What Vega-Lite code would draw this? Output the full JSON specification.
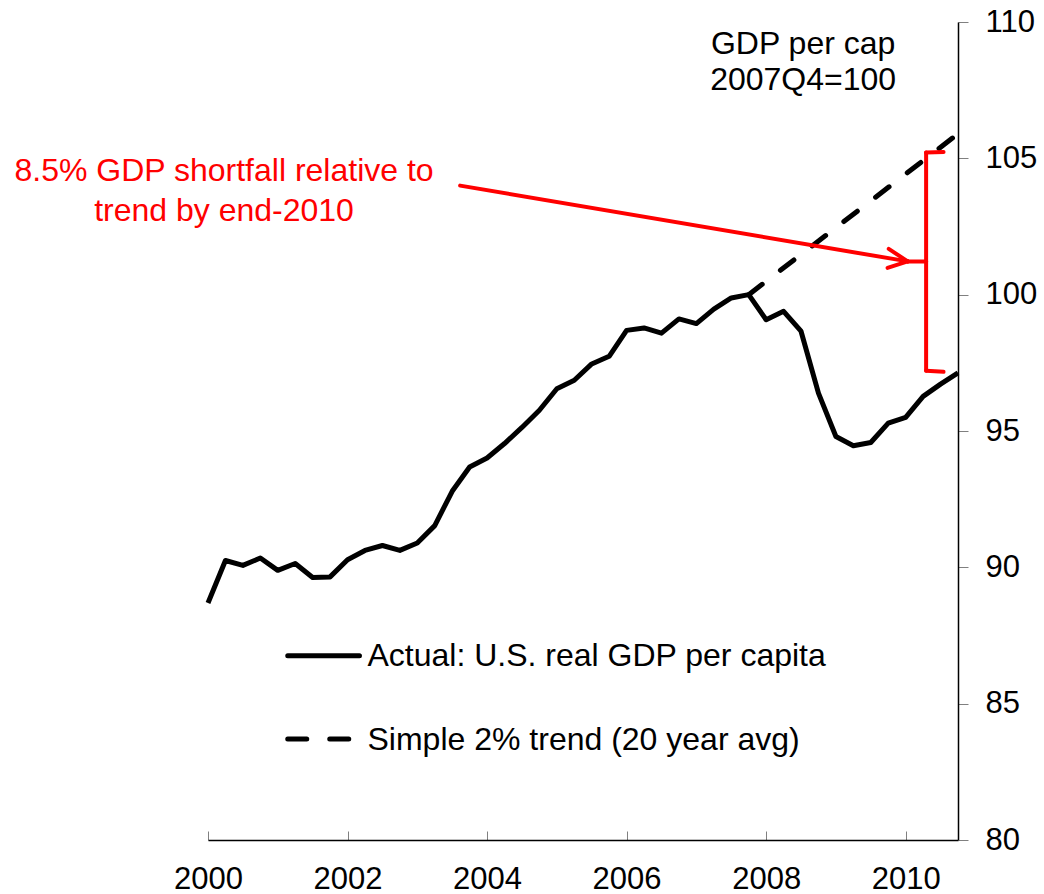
{
  "$schema": "https://vega.github.io/schema/vega-lite/v6.json",
  "width": 750,
  "height": 818,
  "autosize": "none",
  "padding": {"left": 208, "top": 22, "right": 86, "bottom": 54},
  "background": "white",
  "config": {"view": {"stroke": null}, "font": "Liberation Sans"},
  "datasets": {
    "actual": [
      {"date": 2000.00, "value": 88.69}, {"date": 2000.25, "value": 90.25}, {"date": 2000.50, "value": 90.07}, {"date": 2000.75, "value": 90.34},
      {"date": 2001.00, "value": 89.89}, {"date": 2001.25, "value": 90.14}, {"date": 2001.50, "value": 89.63}, {"date": 2001.75, "value": 89.65},
      {"date": 2002.00, "value": 90.28}, {"date": 2002.25, "value": 90.62}, {"date": 2002.50, "value": 90.80}, {"date": 2002.75, "value": 90.62},
      {"date": 2003.00, "value": 90.89}, {"date": 2003.25, "value": 91.53}, {"date": 2003.50, "value": 92.79}, {"date": 2003.75, "value": 93.68},
      {"date": 2004.00, "value": 94.01}, {"date": 2004.25, "value": 94.54}, {"date": 2004.50, "value": 95.13}, {"date": 2004.75, "value": 95.76},
      {"date": 2005.00, "value": 96.55}, {"date": 2005.25, "value": 96.86}, {"date": 2005.50, "value": 97.46}, {"date": 2005.75, "value": 97.74},
      {"date": 2006.00, "value": 98.69}, {"date": 2006.25, "value": 98.78}, {"date": 2006.50, "value": 98.59}, {"date": 2006.75, "value": 99.11},
      {"date": 2007.00, "value": 98.94}, {"date": 2007.25, "value": 99.47}, {"date": 2007.50, "value": 99.88}, {"date": 2007.75, "value": 100.0},
      {"date": 2008.00, "value": 99.08}, {"date": 2008.25, "value": 99.39}, {"date": 2008.50, "value": 98.66}, {"date": 2008.75, "value": 96.39},
      {"date": 2009.00, "value": 94.80}, {"date": 2009.25, "value": 94.46}, {"date": 2009.50, "value": 94.58}, {"date": 2009.75, "value": 95.29},
      {"date": 2010.00, "value": 95.50}, {"date": 2010.25, "value": 96.27}, {"date": 2010.50, "value": 96.72}, {"date": 2010.75, "value": 97.13}
    ],
    "trend": [
      {"date": 2007.75, "value": 100.0},
      {"date": 2010.75, "value": 105.9}
    ],
    "redSegments": [
      {"x": 2003.614, "y": 104.0, "x2": 2010.029, "y2": 101.22},
      {"x": 2010.029, "y": 101.22, "x2": 2009.757, "y2": 101.68},
      {"x": 2010.029, "y": 101.22, "x2": 2009.740, "y2": 100.98},
      {"x": 2010.029, "y": 101.22, "x2": 2010.293, "y2": 101.22},
      {"x": 2010.293, "y": 105.21, "x2": 2010.293, "y2": 97.21},
      {"x": 2010.293, "y": 105.21, "x2": 2010.543, "y2": 105.23},
      {"x": 2010.293, "y": 97.21, "x2": 2010.543, "y2": 97.17}
    ],
    "redText": [
      {"x": 2000.23, "y": 104.52, "text": "8.5% GDP shortfall relative to"},
      {"x": 2000.23, "y": 103.06, "text": "trend by end-2010"}
    ],
    "unitText": [
      {"x": 2008.53, "y": 109.2, "text": "GDP per cap"},
      {"x": 2008.53, "y": 107.86, "text": "2007Q4=100"}
    ],
    "legendLines": [
      {"x": 2001.143, "x2": 2002.171, "y": 86.76, "series": "Actual"},
      {"x": 2001.143, "x2": 2002.171, "y": 83.70, "series": "Trend"}
    ],
    "legendText": [
      {"x": 2002.286, "y": 86.76, "text": "Actual: U.S. real GDP per capita"},
      {"x": 2002.286, "y": 83.68, "text": "Simple 2% trend (20 year avg)"}
    ]
  },
  "layer": [
    {
      "data": {"name": "actual"},
      "mark": {"type": "line", "color": "black", "strokeWidth": 5, "strokeJoin": "round"},
      "encoding": {
        "x": {
          "field": "date", "type": "quantitative",
          "scale": {"domain": [2000, 2010.75], "nice": false, "zero": false},
          "axis": {
            "title": null, "values": [2000, 2002, 2004, 2006, 2008, 2010], "format": "d",
            "grid": false, "domainColor": "black", "domainWidth": 1.5,
            "tickColor": "#808080", "tickWidth": 1, "tickSize": -9,
            "labelFontSize": 31, "labelColor": "black", "labelPadding": 33,
            "labelFlush": false, "labelFont": "Liberation Sans"
          }
        },
        "y": {
          "field": "value", "type": "quantitative",
          "scale": {"domain": [80, 110], "nice": false, "zero": false},
          "axis": {
            "title": null, "orient": "right", "values": [80, 85, 90, 95, 100, 105, 110],
            "grid": false, "domainColor": "black", "domainWidth": 1.5,
            "tickColor": "#808080", "tickWidth": 1, "tickSize": 10,
            "labelFontSize": 31, "labelColor": "black", "labelPadding": 17,
            "labelFlush": false, "labelFont": "Liberation Sans"
          }
        }
      }
    },
    {
      "data": {"name": "trend"},
      "mark": {"type": "line", "color": "black", "strokeWidth": 5, "strokeDash": [17, 23], "strokeCap": "round"},
      "encoding": {
        "x": {"field": "date", "type": "quantitative"},
        "y": {"field": "value", "type": "quantitative"}
      }
    },
    {
      "data": {"name": "redSegments"},
      "mark": {"type": "rule", "color": "#ff0000", "strokeWidth": 4, "strokeCap": "round"},
      "encoding": {
        "x": {"field": "x", "type": "quantitative"},
        "y": {"field": "y", "type": "quantitative"},
        "x2": {"field": "x2"},
        "y2": {"field": "y2"}
      }
    },
    {
      "data": {"name": "redText"},
      "mark": {"type": "text", "color": "#ff0000", "fontSize": 32, "align": "center", "baseline": "middle", "font": "Liberation Sans"},
      "encoding": {
        "x": {"field": "x", "type": "quantitative"},
        "y": {"field": "y", "type": "quantitative"},
        "text": {"field": "text"}
      }
    },
    {
      "data": {"name": "unitText"},
      "mark": {"type": "text", "color": "black", "fontSize": 32, "align": "center", "baseline": "middle", "font": "Liberation Sans"},
      "encoding": {
        "x": {"field": "x", "type": "quantitative"},
        "y": {"field": "y", "type": "quantitative"},
        "text": {"field": "text"}
      }
    },
    {
      "data": {"name": "legendLines"},
      "mark": {"type": "rule", "color": "black", "strokeWidth": 5, "strokeCap": "round"},
      "encoding": {
        "x": {"field": "x", "type": "quantitative"},
        "x2": {"field": "x2"},
        "y": {"field": "y", "type": "quantitative"},
        "strokeDash": {
          "field": "series", "type": "nominal",
          "scale": {"domain": ["Actual", "Trend"], "range": [[1, 0], [19, 23]]},
          "legend": null
        }
      }
    },
    {
      "data": {"name": "legendText"},
      "mark": {"type": "text", "color": "black", "fontSize": 32, "align": "left", "baseline": "middle", "font": "Liberation Sans"},
      "encoding": {
        "x": {"field": "x", "type": "quantitative"},
        "y": {"field": "y", "type": "quantitative"},
        "text": {"field": "text"}
      }
    }
  ]
}
